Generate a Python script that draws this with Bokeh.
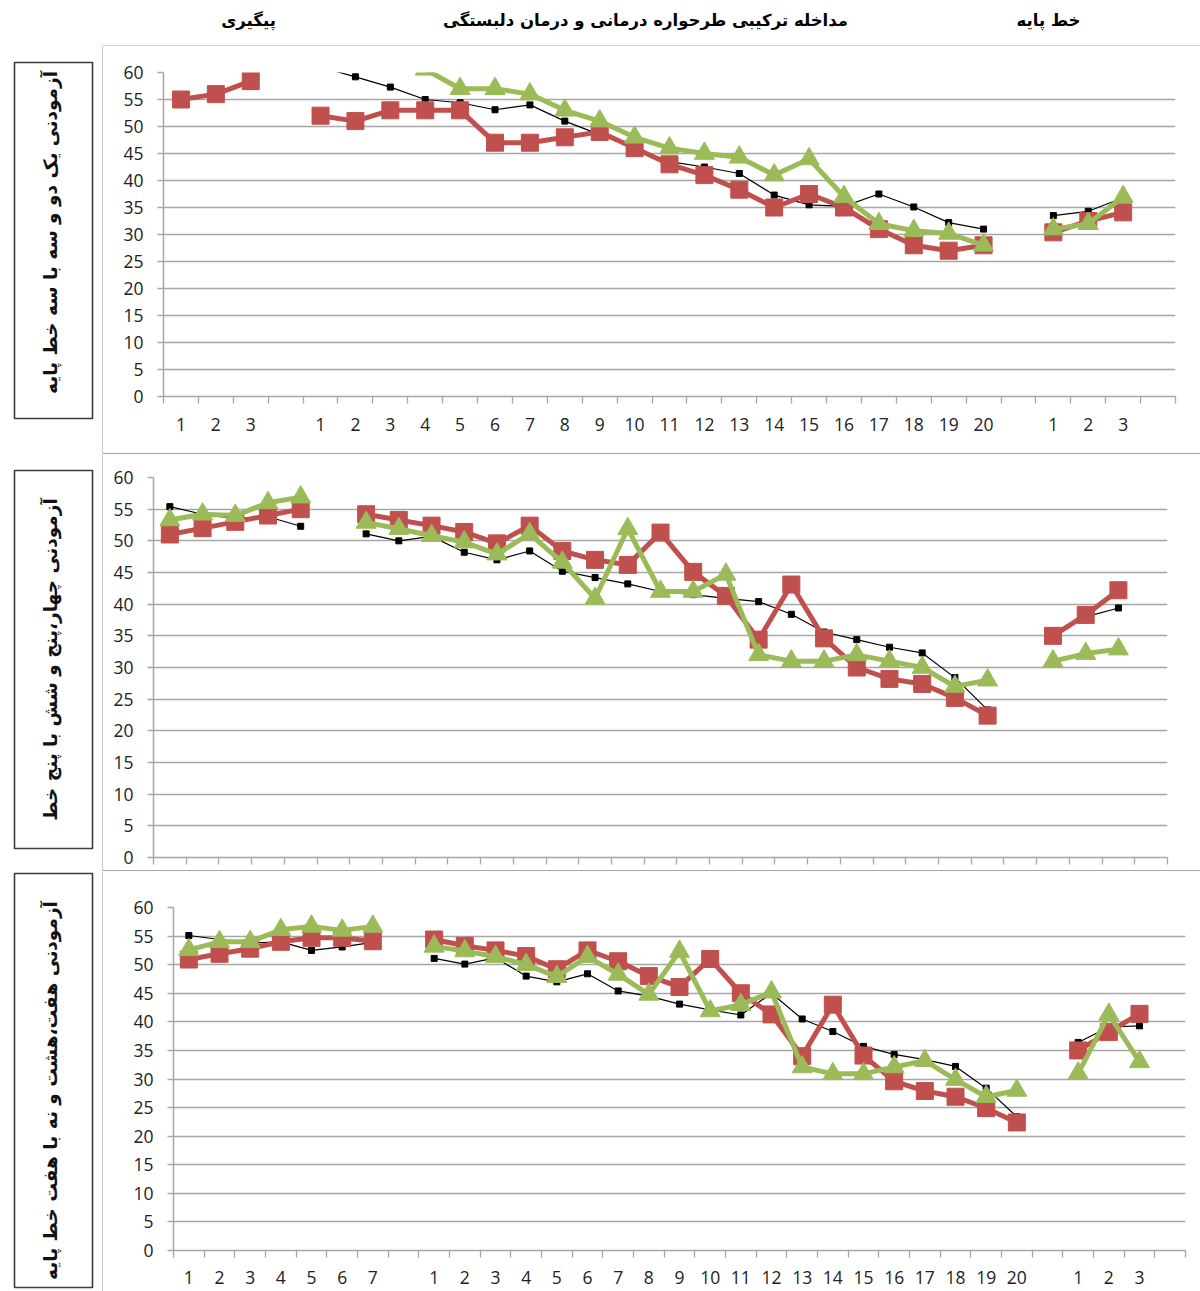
import math
from bokeh.plotting import figure
from bokeh.models import Range1d, FixedTicker, Spacer
from bokeh.layouts import column, row
from bokeh.embed import file_html
from bokeh.resources import INLINE
from bokeh.core.properties import value

NaN = float("nan")

section_titles = ["پیگیری", "مداخله ترکیبی طرحواره درمانی و درمان دلبستگی", "خط پایه"]
panel_titles = [
    "آزمودنی یک دو و سه با سه خط پایه",
    "آزمودنی چهار،پنج و شش با پنج خط",
    "آزمودنی هفت،هشت و نه با هفت خط پایه",
]

y_ticks = [0, 5, 10, 15, 20, 25, 30, 35, 40, 45, 50, 55, 60]
followup_labels_3 = ["1", "2", "3"]
followup_labels_5 = ["1", "2", "3", "4", "5"]
followup_labels_7 = ["1", "2", "3", "4", "5", "6", "7"]
intervention_labels = ["1", "2", "3", "4", "5", "6", "7", "8", "9", "10",
                       "11", "12", "13", "14", "15", "16", "17", "18", "19", "20"]
baseline_labels = ["1", "2", "3"]

# ---------------- Panel 1 (subjects 1, 2, 3) ----------------
p1_followup_black = [62, 63, 64]          # above the axis maximum (clipped)
p1_followup_red = [55, 56, 58.4]
p1_followup_green = [63, 64, 65]          # above the axis maximum (clipped)
p1_interv_black = [61, 59.2, 57.3, 55, 54.4, 53.1, 54, 51, 48.5, 46,
                   43.5, 42.5, 41.3, 37.3, 35.5, 35.2, 37.5, 35.1, 32.2, 31]
p1_interv_red = [52, 51, 53, 53, 53, 47, 47, 48, 49, 46,
                 43, 41, 38.3, 35, 37.5, 35, 31, 28, 27, 28]
p1_interv_green = [64, 63, 62, 60.6, 57, 57, 56, 53, 51, 48,
                   46, 45, 44.3, 41, 44, 37, 32, 30.7, 30.2, 28]
p1_base_black = [33.5, 34.3, 36.8]
p1_base_red = [30.4, 32.5, 34.1]
p1_base_green = [31, 32, 37]

# ---------------- Panel 2 (subjects 4, 5, 6) ----------------
p2_followup_black = [55.4, 54.2, 53.5, 53.8, 52.3]
p2_followup_red = [51, 52, 53, 54, 55]
p2_followup_green = [53.3, 54.2, 54, 56, 56.9]
p2_interv_black = [51.1, 50, 50.7, 48.2, 47, 48.4, 45.2, 44.2, 43.2, 42,
                   41.5, 40.9, 40.4, 38.4, 35.6, 34.4, 33.2, 32.3, 28.4, 23.3]
p2_interv_red = [54.2, 53.3, 52.4, 51.4, 49.6, 52.4, 48.4, 47, 46.2, 51.3,
                 45.1, 41.3, 34.4, 43.1, 34.6, 30, 28.2, 27.4, 25.2, 22.4]
p2_interv_green = [52.9, 51.9, 50.8, 49.8, 47.9, 51.1, 46.6, 40.9, 51.9, 42,
                   42, 44.7, 32, 31, 31, 32, 31, 30, 27, 28]
p2_base_black = [35.5, 38, 39.4]
p2_base_red = [35, 38.3, 42.2]
p2_base_green = [31, 32.2, 32.9]

# ---------------- Panel 3 (subjects 7, 8, 9) ----------------
p3_followup_black = [55.1, 54.4, 53.8, 54, 52.5, 53.1, 53.9]
p3_followup_red = [50.9, 51.9, 52.8, 54, 54.7, 54.7, 54.1]
p3_followup_green = [52.6, 54, 54, 56.1, 56.7, 56, 56.7]
p3_interv_black = [51.1, 50.1, 51.2, 48, 47, 48.4, 45.4, 44.5, 43.1, 42.1,
                   41.2, 45, 40.5, 38.3, 35.7, 34.3, 33.4, 32.2, 28.4, 23.4]
p3_interv_red = [54.4, 53.3, 52.5, 51.5, 49.2, 52.5, 50.6, 48, 46.1, 51,
                 45, 41.3, 34, 43, 34.1, 29.6, 27.9, 26.9, 24.9, 22.4]
p3_interv_green = [53.2, 52.4, 51.4, 50, 47.9, 51.4, 48.3, 44.8, 52.3, 41.9,
                   43, 45.2, 32.1, 30.9, 30.9, 32.1, 33.2, 29.9, 26.9, 28]
p3_base_black = [36.4, 39.1, 39.3]
p3_base_red = [35, 38.2, 41.4]
p3_base_green = [31, 41.3, 33]

BLACK = "#000000"
RED = "#C0504D"
GREEN = "#9BBB59"
GRID = "#a6a6a6"
TEXT = "#222222"
AXIS_FONT = "Open Sans"
FA_FONT = value("DejaVu Sans")


def join(fu, iv, bl):
    return list(fu) + [NaN] + list(iv) + [NaN] + list(bl) + [NaN]


def make_chart(series, fu_labels, width, height, borders, show_labels, standoff):
    n_fu = len(fu_labels)
    n = n_fu + 1 + len(intervention_labels) + 1 + len(baseline_labels) + 1
    x = list(range(n))
    p = figure(width=width, height=height,
               x_range=Range1d(-0.5, n - 0.5), y_range=Range1d(0, 60),
               output_backend="svg", toolbar_location=None,
               min_border_left=borders[0], min_border_right=borders[1],
               min_border_top=borders[2], min_border_bottom=borders[3])
    p.frame_align = False
    p.outline_line_color = None
    p.background_fill_color = "white"
    p.border_fill_color = "white"

    centres = list(range(n_fu)) + [n_fu + 1 + i for i in range(len(intervention_labels))] + \
        [n_fu + 22 + i for i in range(len(baseline_labels))]
    labels = list(fu_labels) + intervention_labels + baseline_labels
    bounds = [k - 0.5 for k in range(n + 1)]
    xax = p.xaxis[0]
    if show_labels:
        xax.ticker = FixedTicker(ticks=centres, minor_ticks=bounds)
        xax.major_label_overrides = {c: l for c, l in zip(centres, labels)}
    else:
        xax.ticker = FixedTicker(ticks=[], minor_ticks=bounds)
    xax.major_tick_out = 0
    xax.major_tick_in = 0
    xax.minor_tick_out = 7
    xax.minor_tick_in = 0
    xax.minor_tick_line_color = GRID
    xax.minor_tick_line_width = 1.3
    xax.axis_line_color = GRID
    xax.axis_line_width = 1.5
    xax.major_label_standoff = standoff
    xax.major_label_text_font = AXIS_FONT
    xax.major_label_text_font_size = "17.5px"
    xax.major_label_text_color = TEXT

    yax = p.yaxis[0]
    yax.ticker = FixedTicker(ticks=y_ticks)
    yax.major_tick_out = 6
    yax.major_tick_in = 0
    yax.minor_tick_out = 0
    yax.minor_tick_in = 0
    yax.major_tick_line_color = GRID
    yax.major_tick_line_width = 1.3
    yax.axis_line_color = GRID
    yax.axis_line_width = 1.5
    yax.major_label_standoff = 14
    yax.major_label_text_font = AXIS_FONT
    yax.major_label_text_font_size = "17.5px"
    yax.major_label_text_color = TEXT

    p.xgrid.visible = False
    p.ygrid.ticker = FixedTicker(ticks=y_ticks)
    p.ygrid.grid_line_color = GRID
    p.ygrid.grid_line_width = 1.4

    black, red, green = series
    p.line(x, black, line_color=BLACK, line_width=1.2, line_join="round")
    p.scatter(x, black, marker="square", size=6, fill_color=BLACK, line_color=BLACK)
    p.line(x, red, line_color=RED, line_width=5, line_join="round")
    p.scatter(x, red, marker="square", size=17, fill_color=RED, line_color=RED)
    p.line(x, green, line_color=GREEN, line_width=5, line_join="round")
    p.scatter(x, green, marker="triangle", size=20, fill_color=GREEN, line_color=GREEN)
    return p


def bare(width, height, xr, yr):
    p = figure(width=width, height=height, x_range=xr, y_range=yr,
               output_backend="svg", toolbar_location=None,
               x_axis_location=None, y_axis_location=None,
               min_border=0, min_border_left=0, min_border_right=0,
               min_border_top=0, min_border_bottom=0)
    p.frame_align = False
    p.grid.visible = False
    p.outline_line_color = None
    return p


def make_side(title, y_top, y_bot, box_top, box_bot, text_y):
    p = bare(103, int(y_bot - y_top), Range1d(0, 103), Range1d(y_bot, y_top))
    p.quad(left=[14], right=[92], top=[box_top], bottom=[box_bot],
           fill_color=None, line_color="#3a3a3a", line_width=1.6)
    p.text(x=[50], y=[text_y], text=[title], angle=math.pi / 2,
           text_align="center", text_baseline="middle",
           text_font=FA_FONT, text_font_size="18.5px", text_font_style="bold",
           text_color="#111111")
    p.segment(x0=[102.5], x1=[102.5], y0=[y_top], y1=[y_bot],
              line_color=GRID, line_width=1.2)
    return p


header = bare(1200, 46, Range1d(0, 1200), Range1d(46, 0))
header.text(x=[248, 645, 1048], y=[20, 20, 20], text=section_titles,
            text_align="center", text_baseline="middle",
            text_font=FA_FONT, text_font_size="16.5px", text_font_style="bold",
            text_color="#000000")
header.segment(x0=[102.5], x1=[1200], y0=[45.5], y1=[45.5], line_color=GRID, line_width=1.2)
header.segment(x0=[102.5], x1=[102.5], y0=[45], y1=[46], line_color=GRID, line_width=1.2)

c1 = make_chart((join(p1_followup_black, p1_interv_black, p1_base_black),
                 join(p1_followup_red, p1_interv_red, p1_base_red),
                 join(p1_followup_green, p1_interv_green, p1_base_green)),
                followup_labels_3, 1097, 407, (60, 25, 26, 57), True, 14)
c2 = make_chart((join(p2_followup_black, p2_interv_black, p2_base_black),
                 join(p2_followup_red, p2_interv_red, p2_base_red),
                 join(p2_followup_green, p2_interv_green, p2_base_green)),
                followup_labels_5, 1097, 416, (50, 33, 23, 13), False, 0)
c3 = make_chart((join(p3_followup_black, p3_interv_black, p3_base_black),
                 join(p3_followup_red, p3_interv_red, p3_base_red),
                 join(p3_followup_green, p3_interv_green, p3_base_green)),
                followup_labels_7, 1097, 420, (70, 15, 36, 41), True, 13)

s1 = make_side(panel_titles[0], 46, 454, 62, 418, 232)
s2 = make_side(panel_titles[1], 454, 871, 470, 848, 659)
s3 = make_side(panel_titles[2], 871, 1291, 873, 1287, 1090)

sep1 = Spacer(width=1097, height=1, styles={"background-color": GRID})
sep2 = Spacer(width=1097, height=1, styles={"background-color": GRID})

layout = column(header,
                row(column(s1, s2, s3), column(c1, sep1, c2, sep2, c3)))

open("out.html", "w").write(file_html(layout, INLINE))
